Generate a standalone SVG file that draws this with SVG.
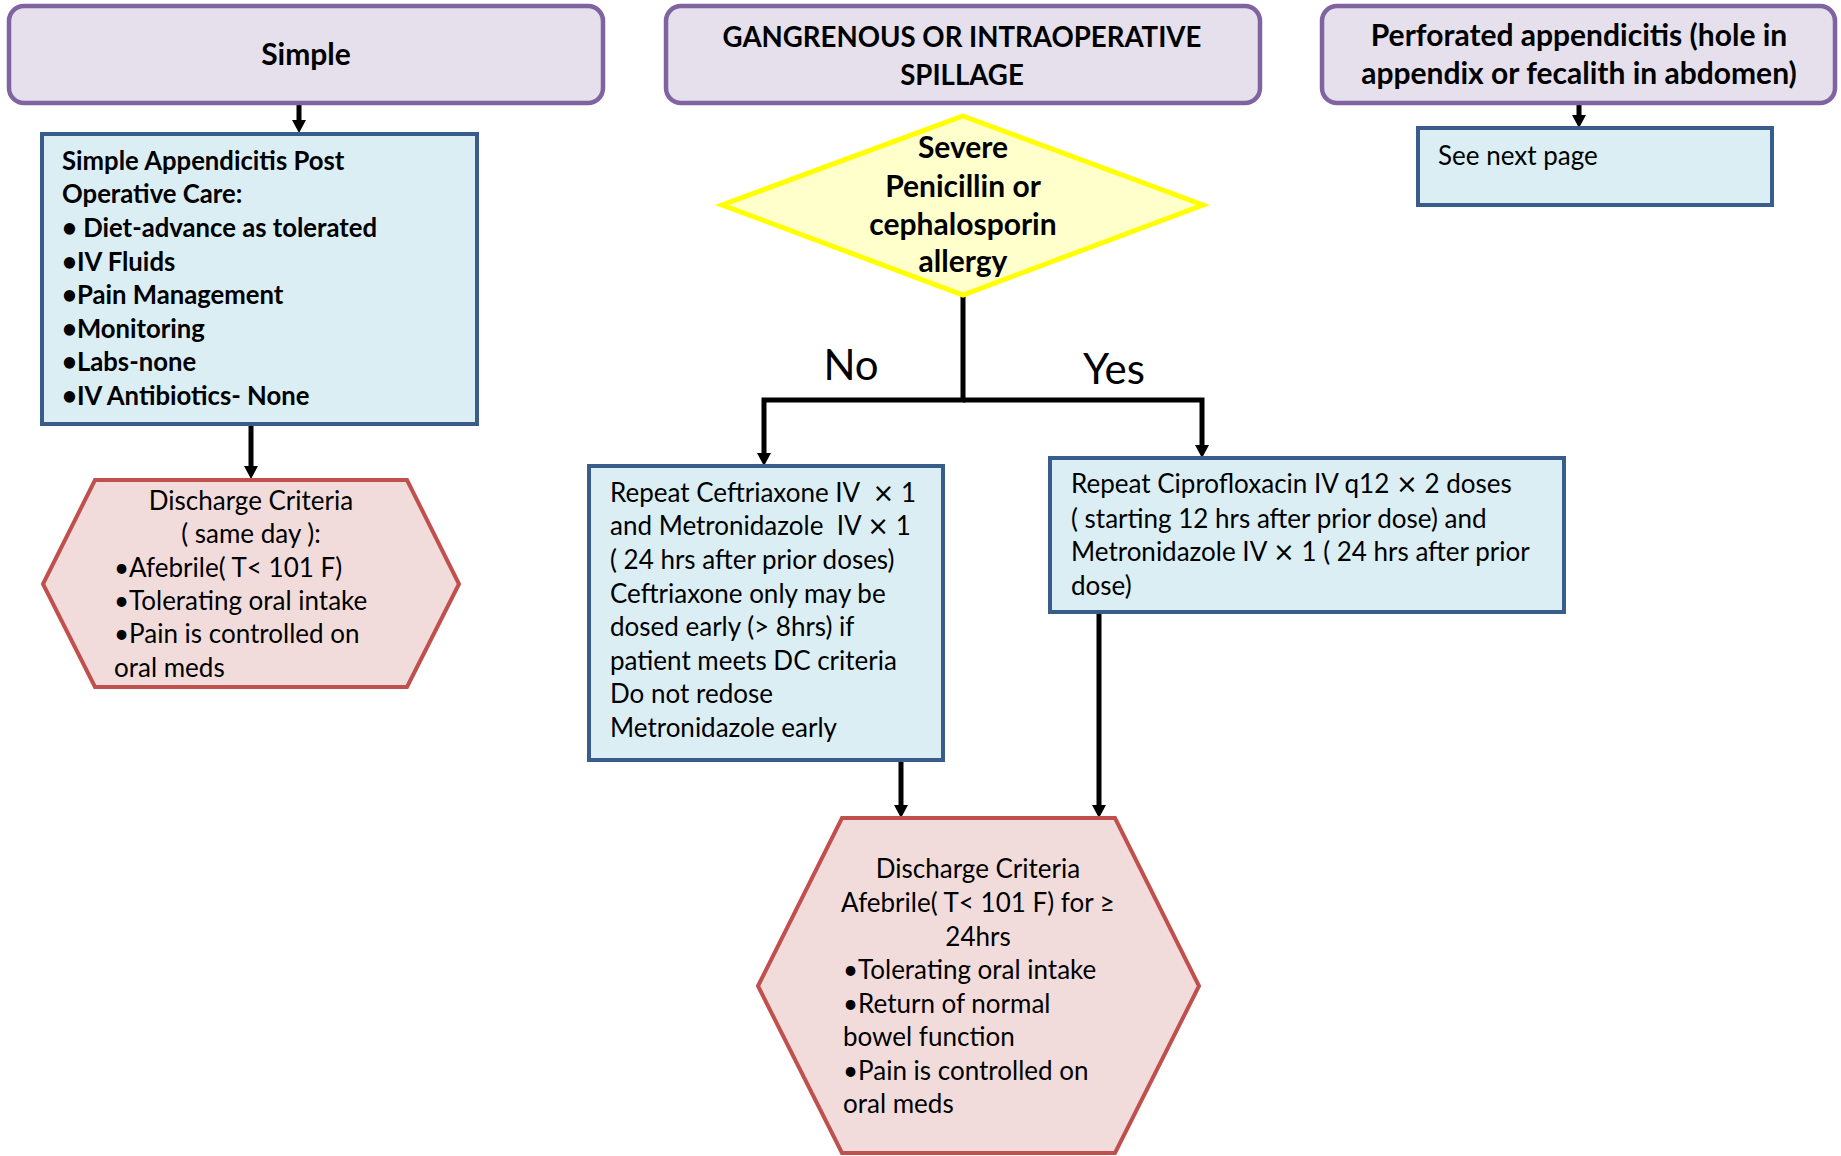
<svg xmlns="http://www.w3.org/2000/svg" width="1841" height="1156" viewBox="0 0 1841 1156">
<defs>
<style>
.hdr{fill:#E5E0EC;stroke:#8064A2;stroke-width:4.5}
.box{fill:#DBEEF4;stroke:#385D8A;stroke-width:4}
.hex{fill:#F2DCDB;stroke:#C0504D;stroke-width:4}
.dia{fill:#FFFFCC;stroke:#FFFF00;stroke-width:5}
text{font-family:Lato,'Liberation Sans',sans-serif;fill:#000;white-space:pre}
.hb{font-size:30px;font-weight:bold;text-anchor:middle}
.caps{font-size:27.6px}
.bb{font-size:25.7px;font-weight:bold}
.t{font-size:26px}
.c{text-anchor:middle}
.x{font-family:'DejaVu Sans',sans-serif;font-weight:normal}
.lbl{font-size:42px;text-anchor:middle}
.con{fill:none;stroke:#000;stroke-width:5}
</style>
<marker id="ah" markerUnits="userSpaceOnUse" markerWidth="16" markerHeight="16" refX="1" refY="7" orient="auto">
<path d="M0,0 L13,7 L0,14 z" fill="#000"/>
</marker>
</defs>

<g id="connectors">
<line class="con" x1="299" y1="104" x2="299" y2="121" marker-end="url(#ah)"/>
<line class="con" x1="251" y1="425" x2="251" y2="467" marker-end="url(#ah)"/>
<line class="con" x1="1579" y1="104" x2="1579" y2="116" marker-end="url(#ah)"/>
<polyline class="con" points="963,295 963,400 764,400 764,454" marker-end="url(#ah)"/>
<polyline class="con" points="963,400 1202,400 1202,446" marker-end="url(#ah)"/>
<line class="con" x1="901" y1="760" x2="901" y2="806" marker-end="url(#ah)"/>
<line class="con" x1="1099" y1="612" x2="1099" y2="806" marker-end="url(#ah)"/>
<text class="lbl" x="851" y="380">No</text>
<text class="lbl" x="1114" y="384">Yes</text>
</g>

<g id="simple">
<rect class="hdr" x="9" y="6" width="594" height="97" rx="15"/>
<text class="hb" x="306" y="65">Simple</text>
</g>

<g id="gangrenous">
<rect class="hdr" x="666" y="6" width="594" height="97" rx="15"/>
<text class="hb caps" x="962" y="47">GANGRENOUS OR INTRAOPERATIVE</text>
<text class="hb caps" x="962" y="85">SPILLAGE</text>
</g>

<g id="perforated">
<rect class="hdr" x="1322" y="6" width="513" height="97" rx="15"/>
<text class="hb" x="1579" y="46">Perforated appendicitis (hole in</text>
<text class="hb" x="1579" y="84">appendix or fecalith in abdomen)</text>
</g>

<g id="simple-care">
<rect class="box" x="42" y="134" width="435" height="290"/>
<text class="bb" x="62" y="170">Simple Appendicitis Post</text>
<text class="bb" x="62" y="203">Operative Care:</text>
<text class="bb" x="62" y="237">• Diet-advance as tolerated</text>
<text class="bb" x="62" y="271">•IV Fluids</text>
<text class="bb" x="62" y="304">•Pain Management</text>
<text class="bb" x="62" y="338">•Monitoring</text>
<text class="bb" x="62" y="371">•Labs-none</text>
<text class="bb" x="62" y="405">•IV Antibiotics- None</text>
</g>

<g id="discharge-simple">
<polygon class="hex" points="43,584 95,480 407,480 459,584 407,687 95,687"/>
<text class="t c" x="251" y="510">Discharge Criteria</text>
<text class="t c" x="251" y="543">( same day ):</text>
<text class="t" x="114" y="577">•Afebrile( T&lt; 101 F)</text>
<text class="t" x="114" y="610">•Tolerating oral intake</text>
<text class="t" x="114" y="643">•Pain is controlled on</text>
<text class="t" x="114" y="677">oral meds</text>
</g>

<g id="see-next">
<rect class="box" x="1418" y="128" width="354" height="77"/>
<text class="t" x="1438" y="165">See next page</text>
</g>

<g id="allergy">
<polygon class="dia" points="963,116 1203,205 963,295 722,205"/>
<text class="hb" x="963" y="158">Severe</text>
<text class="hb" x="963" y="197">Penicillin or</text>
<text class="hb" x="963" y="235">cephalosporin</text>
<text class="hb" x="963" y="272">allergy</text>
</g>

<g id="no-allergy">
<rect class="box" x="589" y="466" width="354" height="294"/>
<text class="t" x="610" y="502">Repeat Ceftriaxone IV  <tspan class="x">×</tspan> 1</text>
<text class="t" x="610" y="535">and Metronidazole  IV <tspan class="x">×</tspan> 1</text>
<text class="t" x="610" y="569">( 24 hrs after prior doses)</text>
<text class="t" x="610" y="603">Ceftriaxone only may be</text>
<text class="t" x="610" y="636">dosed early (&gt; 8hrs) if</text>
<text class="t" x="610" y="670">patient meets DC criteria</text>
<text class="t" x="610" y="703">Do not redose</text>
<text class="t" x="610" y="737">Metronidazole early</text>
</g>

<g id="yes-allergy">
<rect class="box" x="1050" y="458" width="514" height="154"/>
<text class="t" x="1071" y="493">Repeat Ciprofloxacin IV q12 <tspan class="x">×</tspan> 2 doses</text>
<text class="t" x="1071" y="528">( starting 12 hrs after prior dose) and</text>
<text class="t" x="1071" y="561">Metronidazole IV <tspan class="x">×</tspan> 1 ( 24 hrs after prior</text>
<text class="t" x="1071" y="595">dose)</text>
</g>

<g id="discharge-complex">
<polygon class="hex" points="758,986 842,818 1115,818 1199,986 1115,1153 842,1153"/>
<text class="t c" x="978" y="878">Discharge Criteria</text>
<text class="t c" x="978" y="912">Afebrile( T&lt; 101 F) for ≥</text>
<text class="t c" x="978" y="946">24hrs</text>
<text class="t" x="843" y="979">•Tolerating oral intake</text>
<text class="t" x="843" y="1013">•Return of normal</text>
<text class="t" x="843" y="1046">bowel function</text>
<text class="t" x="843" y="1080">•Pain is controlled on</text>
<text class="t" x="843" y="1113">oral meds</text>
</g>
</svg>
